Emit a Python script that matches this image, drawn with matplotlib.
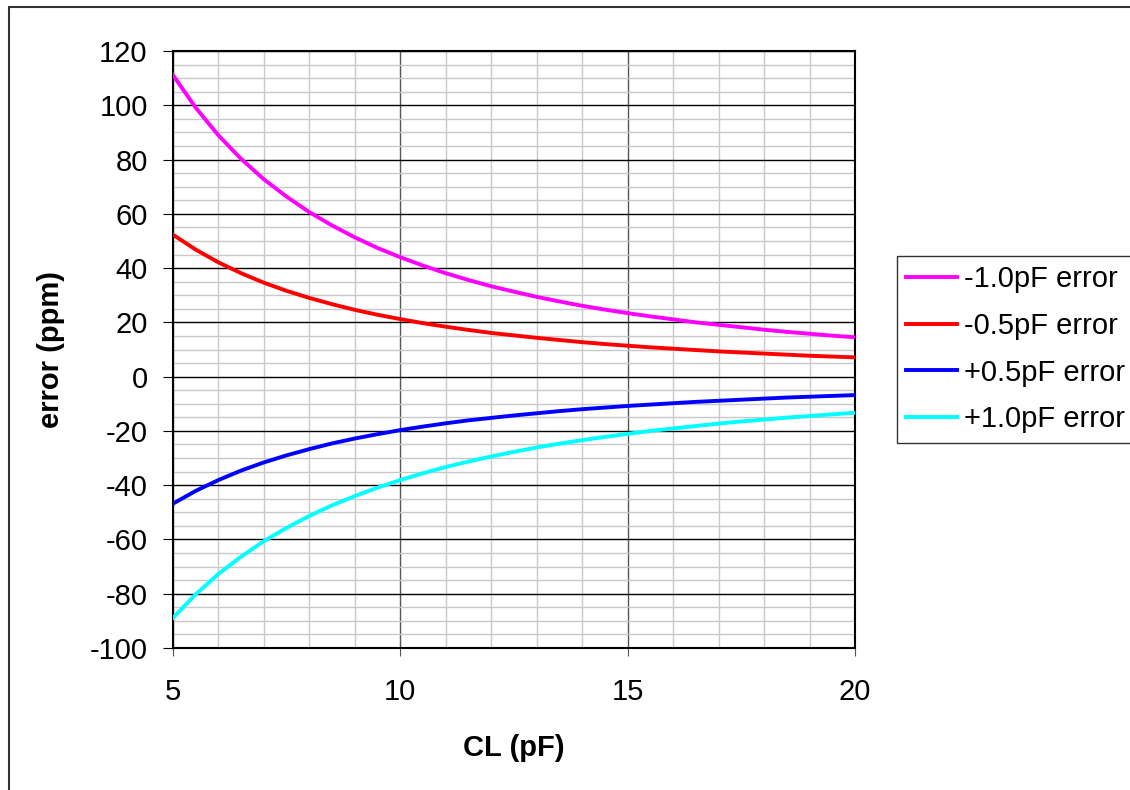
import matplotlib
matplotlib.use("Agg")
import matplotlib.pyplot as plt
from matplotlib.patches import Rectangle
from matplotlib.ticker import MultipleLocator

plt.rcParams['font.family'] = ['Liberation Sans', 'DejaVu Sans']
plt.rcParams['axes.unicode_minus'] = False

# load capacitance (pF)
cl = [5.0, 5.5, 6.0, 6.5, 7.0, 7.5, 8.0, 8.5, 9.0, 9.5, 10.0,
      10.5, 11.0, 11.5, 12.0, 12.5, 13.0, 13.5, 14.0, 14.5, 15.0,
      15.5, 16.0, 16.5, 17.0, 17.5, 18.0, 18.5, 19.0, 19.5, 20.0]

# frequency error (ppm)
err_m10 = [111.1, 99.1, 88.9, 80.2, 72.7, 66.3, 60.6, 55.7, 51.3, 47.4, 44.0,
           40.9, 38.1, 35.6, 33.3, 31.3, 29.4, 27.7, 26.1, 24.7, 23.4,
           22.2, 21.1, 20.0, 19.1, 18.2, 17.3, 16.5, 15.8, 15.1, 14.5]
err_m05 = [52.3, 46.8, 42.1, 38.1, 34.6, 31.6, 29.0, 26.7, 24.6, 22.8, 21.2,
           19.7, 18.4, 17.2, 16.1, 15.2, 14.3, 13.5, 12.7, 12.0, 11.4,
           10.8, 10.3, 9.8, 9.3, 8.9, 8.5, 8.1, 7.7, 7.4, 7.1]
err_p05 = [-46.8, -42.1, -38.1, -34.6, -31.6, -29.0, -26.7, -24.6, -22.8, -21.2, -19.7,
           -18.4, -17.2, -16.1, -15.2, -14.3, -13.5, -12.7, -12.0, -11.4, -10.8,
           -10.3, -9.8, -9.3, -8.9, -8.5, -8.1, -7.7, -7.4, -7.1, -6.8]
err_p10 = [-88.9, -80.2, -72.7, -66.3, -60.6, -55.7, -51.3, -47.4, -44.0, -40.9, -38.1,
           -35.6, -33.3, -31.3, -29.4, -27.7, -26.1, -24.7, -23.4, -22.2, -21.1,
           -20.0, -19.1, -18.2, -17.3, -16.5, -15.8, -15.1, -14.5, -13.9, -13.3]

labels = ['-1.0pF error', '-0.5pF error', '+0.5pF error', '+1.0pF error']
colors = ['#FF00FF', '#FF0000', '#0000FF', '#00FFFF']

fig = plt.figure(figsize=(11.3, 7.9), dpi=100)
ax = fig.add_axes([173/1130, 1 - 648/790, 682/1130, 597/790])

for ys, lab, c in zip([err_m10, err_m05, err_p05, err_p10], labels, colors):
    ax.plot(cl, ys, color=c, lw=2.8, label=lab, zorder=3)

ax.set_xlim(5, 20)
ax.set_ylim(-100, 120)
ax.xaxis.set_major_locator(MultipleLocator(5))
ax.xaxis.set_minor_locator(MultipleLocator(1))
ax.yaxis.set_major_locator(MultipleLocator(20))
ax.yaxis.set_minor_locator(MultipleLocator(5))

ax.grid(which='minor', color='#c8c8c8', lw=1.0, zorder=0)
ax.grid(which='major', axis='y', color='black', lw=1.0, zorder=1)
ax.grid(which='major', axis='x', color='#555555', lw=1.0, zorder=1)

ax.tick_params(which='minor', length=0)
ax.tick_params(which='major', direction='out', labelsize=21, color='black')
ax.tick_params(axis='y', which='major', length=7.2, pad=11)
ax.tick_params(axis='x', which='major', length=5.8, pad=16, color='#555555')
for sp in ax.spines.values():
    sp.set_linewidth(1.5)
    sp.set_color('black')

ax.set_xlabel('CL (pF)', fontsize=21, fontweight='bold', va='center')
ax.set_ylabel('error (ppm)', fontsize=21, fontweight='bold', va='center')
ax.xaxis.set_label_coords(0.5, (648 - 748) / 597)
ax.yaxis.set_label_coords((51 - 173) / 682, 0.5)

leg = fig.legend(loc='upper left', bbox_to_anchor=(897/1130, 1 - 256/790),
                 fontsize=21, frameon=True, fancybox=False, handlelength=1.75,
                 handletextpad=0.22, borderpad=0.32, labelspacing=0.64,
                 borderaxespad=0)
leg.get_frame().set_edgecolor('black')
leg.get_frame().set_linewidth(1.0)

# outer chart border
fig.patches.append(Rectangle((8.5/1130, -0.05), 1.1, 1 - 7/790 + 0.05,
                             transform=fig.transFigure, fill=False,
                             edgecolor='#333333', lw=1.5))

fig.savefig('out.png', dpi=100)
